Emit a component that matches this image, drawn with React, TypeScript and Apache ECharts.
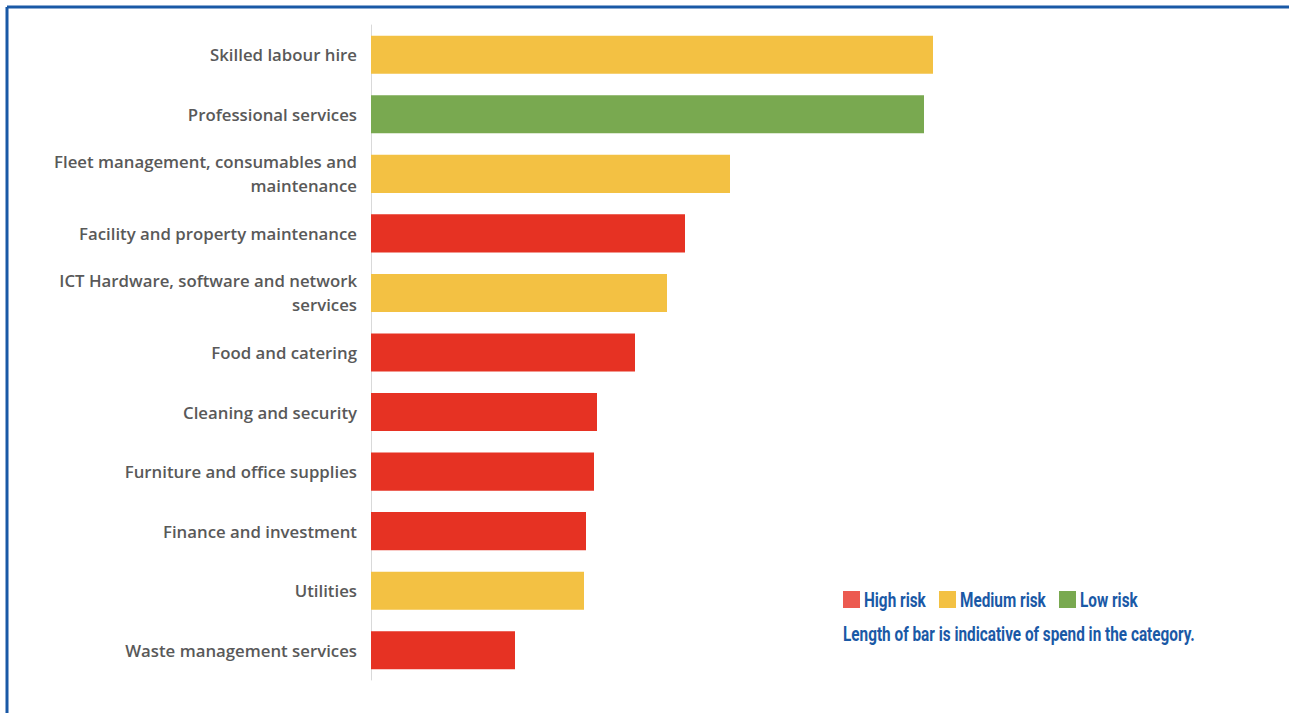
import React, { useEffect, useRef } from "react";
import * as echarts from "echarts";

const categories = [
  "Skilled labour hire",
  "Professional services",
  "Fleet management, consumables and\nmaintenance",
  "Facility and property maintenance",
  "ICT Hardware, software and network\nservices",
  "Food and catering",
  "Cleaning and security",
  "Furniture and office supplies",
  "Finance and investment",
  "Utilities",
  "Waste management services",
];
const spend = [562, 553, 359, 314, 296, 264, 226, 223, 215, 213, 144];
const risk = ["medium", "low", "medium", "high", "medium", "high", "high", "high", "high", "medium", "high"];

const riskColors: Record<string, string> = {
  high: "#E63223",
  medium: "#F3C143",
  low: "#79A950",
};
const legendItems = [
  { label: "High risk", color: "#EC5A50" },
  { label: "Medium risk", color: "#F3C143" },
  { label: "Low risk", color: "#79A950" },
];
const note = "Length of bar is indicative of spend in the category.";

export default function App() {
  const ref = useRef<HTMLDivElement>(null);
  useEffect(() => {
    if (!ref.current) return;
    const chart = echarts.init(ref.current, undefined, { renderer: "svg" });
    const blue = "#1A59A6";
    const legendFont = 'Roboto, sans-serif';
    const sx = 0.73;
    const legendX = [843, 939, 1059];
    const graphics: any[] = [
      { type: "line", shape: { x1: 7, y1: 7, x2: 1289, y2: 7 }, style: { stroke: blue, lineWidth: 3 } },
      { type: "line", shape: { x1: 7, y1: 7, x2: 7, y2: 713 }, style: { stroke: blue, lineWidth: 3 } },
    ];
    legendItems.forEach((it, i) => {
      graphics.push({ type: "rect", shape: { x: legendX[i], y: 591, width: 17, height: 17 }, style: { fill: it.color } });
      graphics.push({
        type: "text",
        x: legendX[i] + 21,
        y: 600,
        scaleX: sx,
        style: { text: it.label, fill: blue, font: `bold 21px ${legendFont}`, textVerticalAlign: "middle" },
      });
    });
    graphics.push({
      type: "text",
      x: 843,
      y: 634,
      scaleX: sx,
      style: { text: note, fill: blue, font: `bold 21px ${legendFont}`, textVerticalAlign: "middle" },
    });

    chart.setOption({
      animation: false,
      backgroundColor: "#ffffff",
      grid: { left: 371, top: 25, width: 600, bottom: 33 },
      xAxis: {
        type: "value",
        min: 0,
        max: 600,
        show: false,
      },
      yAxis: {
        type: "category",
        inverse: true,
        data: categories,
        axisLine: { show: true, lineStyle: { color: "#D9D9D9", width: 1 } },
        axisTick: { show: false },
        axisLabel: {
          color: "#595959",
          fontFamily: '"Open Sans", sans-serif',
          fontSize: 16.8,
          fontWeight: 600,
          margin: 14,
          lineHeight: 24,
          align: "right",
        },
      },
      series: [
        {
          type: "bar",
          barCategoryGap: "36%",
          data: spend.map((v, i) => ({ value: v, itemStyle: { color: riskColors[risk[i]] } })),
        },
      ],
      graphic: graphics,
    });
    return () => chart.dispose();
  }, []);
  return <div ref={ref} style={{ position: "fixed", left: 0, top: 0, width: 1289, height: 713 }} />;
}
